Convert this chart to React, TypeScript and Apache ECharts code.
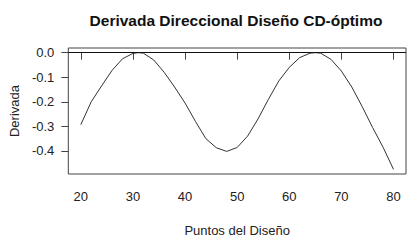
import React, { useEffect, useRef } from "react";
import * as echarts from "echarts";

const xPoints = [20, 22, 24, 26, 28, 30, 31, 32, 34, 36, 38, 40, 42, 44, 46, 48, 50, 52, 54, 56, 58, 60, 62, 64, 65, 66, 68, 70, 72, 74, 76, 78, 80];
const derivada = [-0.293, -0.2, -0.135, -0.072, -0.025, -0.003, 0, -0.002, -0.03, -0.08, -0.14, -0.205, -0.28, -0.35, -0.387, -0.402, -0.386, -0.34, -0.27, -0.19, -0.115, -0.06, -0.02, -0.002, 0, -0.002, -0.027, -0.075, -0.14, -0.22, -0.305, -0.385, -0.475];
const xTicks = [20, 30, 40, 50, 60, 70, 80];
const yTicks = [0, -0.1, -0.2, -0.3, -0.4];

const FONT = "'Liberation Sans', Arial, sans-serif";

export default function App() {
  const ref = useRef<HTMLDivElement>(null);
  useEffect(() => {
    if (!ref.current) return;
    const chart = echarts.init(ref.current, null, { renderer: "svg" });
    chart.setOption({
      animation: false,
      backgroundColor: "#ffffff",
      graphic: [
        {
          type: "text",
          x: 236,
          y: 20,
          style: {
            text: "Derivada Direccional Diseño CD-óptimo",
            fontFamily: FONT,
            fontSize: 15.5,
            fontWeight: "bold",
            fill: "#111",
            textAlign: "center",
            textVerticalAlign: "middle",
          },
        },
      ],
      grid: {
        left: 66,
        right: 9,
        top: 48,
        bottom: 75,
        show: true,
        borderColor: "#444",
        borderWidth: 1,
        backgroundColor: "transparent",
      },
      xAxis: {
        type: "value",
        min: 17.6,
        max: 82.4,
        name: "Puntos del Diseño",
        nameLocation: "middle",
        nameGap: 50,
        nameTextStyle: { fontFamily: FONT, fontSize: 13, color: "#222" },
        axisLine: { show: false },
        splitLine: { show: false },
        axisTick: { show: true, length: 7, lineStyle: { color: "#444" }, customValues: xTicks },
        axisLabel: {
          fontFamily: FONT,
          fontSize: 13,
          color: "#222",
          margin: 16,
          customValues: xTicks,
          formatter: (v: number) => String(v),
        },
      },
      yAxis: {
        type: "value",
        min: -0.494,
        max: 0.019,
        name: "Derivada",
        nameLocation: "middle",
        nameGap: 44,
        nameTextStyle: { fontFamily: FONT, fontSize: 13, color: "#222" },
        axisLine: { show: false },
        splitLine: { show: false },
        axisTick: { show: true, length: 7, lineStyle: { color: "#444" }, customValues: yTicks },
        axisLabel: {
          fontFamily: FONT,
          fontSize: 13,
          color: "#222",
          margin: 14,
          customValues: yTicks,
          formatter: (v: number) => v.toFixed(1),
        },
      },
      series: [
        {
          type: "line",
          data: xPoints.map((x, i) => [x, derivada[i]]),
          showSymbol: false,
          lineStyle: { color: "#333", width: 1 },
          markLine: {
            silent: true,
            symbol: "none",
            label: { show: false },
            lineStyle: { color: "#111", width: 1, type: "solid" },
            data: [{ yAxis: 0 }],
          },
        },
      ],
    });
    return () => chart.dispose();
  }, []);
  return <div ref={ref} style={{ width: 415, height: 249, position: "absolute", left: 0, top: 0 }} />;
}
